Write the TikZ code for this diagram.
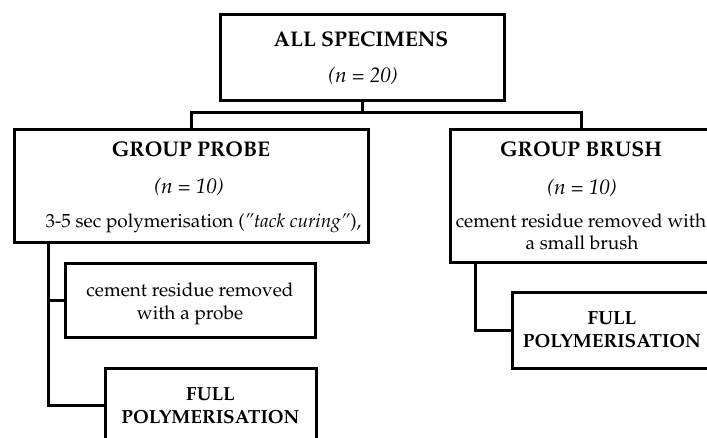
\documentclass[tikz,border=0pt]{standalone}
\usepackage[T1]{fontenc}
\usepackage{mathpazo}
\usetikzlibrary{calc}
\tikzset{
  bx/.style={draw=black, line width=3pt, rectangle, inner sep=0pt},
  link/.style={draw=black, line width=3pt},
  txt/.style={inner sep=0pt, anchor=base, font=\fontsize{19}{23}\selectfont},
  hd/.style={txt, font=\fontsize{21.2}{23}\selectfont\bfseries},
  nn/.style={txt, font=\fontsize{21}{23}\selectfont\itshape},
  fp/.style={txt, font=\fontsize{19}{23}\selectfont\bfseries},
}
\begin{document}
\begin{tikzpicture}[x=1pt,y=-1pt]
\useasboundingbox (0,0) rectangle (707,438);
\clip (0,0) rectangle (707,438);
% boxes
\node[bx, minimum width=284, minimum height=86] (top) at (362,58) {};
\node[bx, minimum width=354, minimum height=113.5] (probe) at (191,186.25) {};
\node[bx, minimum width=262, minimum height=133.5] (brush) at (581,196.25) {};
\node[bx, minimum width=250, minimum height=74] (cement) at (190,301) {};
\node[bx, minimum width=211, minimum height=75] (fullA) at (210.5,405.5) {};
\node[bx, minimum width=200, minimum height=75] (fullB) at (612,330.5) {};
% texts
\node[hd] (t1) at (361,47) {ALL SPECIMENS};
\node[nn] (t2) at (363,83) {(n = 20)};
\node[hd] (p1) at (191,157) {GROUP PROBE};
\node[nn] (p2) at (189,194) {(n = 10)};
\node[txt] (p3) at (203.5,228) {3-5 sec polymerisation (\textit{''tack curing''}),};
\node[hd] (b1) at (581,157) {GROUP BRUSH};
\node[nn] (b2) at (582,195) {(n = 10)};
\node[txt] (b3) at (581,228) {cement residue removed with};
\node[txt] (b4) at (582,250) {a small brush};
\node[txt] (c1) at (190,297) {cement residue removed};
\node[txt] (c2) at (190,320) {with a probe};
\node[fp] (fa1) at (210.5,400) {FULL};
\node[fp] (fa2) at (210.5,423) {POLYMERISATION};
\node[fp] (fb1) at (612,325) {FULL};
\node[fp] (fb2) at (612,348) {POLYMERISATION};
% connectors
\coordinate (bar) at ($(probe.north)+(0,-15)$);
\draw[link] (top.south) -- (top.south |- bar);
\draw[link] (probe.north) -- (bar) -| (brush.north);
\coordinate (spineA) at ($(probe.south west)+(36,0)$);
\draw[link] (spineA) |- (fullA.west);
\draw[link] (cement.west) -- (cement.west -| spineA);
\coordinate (spineB) at ($(brush.south west)+(27,0)$);
\draw[link] (spineB) |- (fullB.west);
\end{tikzpicture}
\end{document}
